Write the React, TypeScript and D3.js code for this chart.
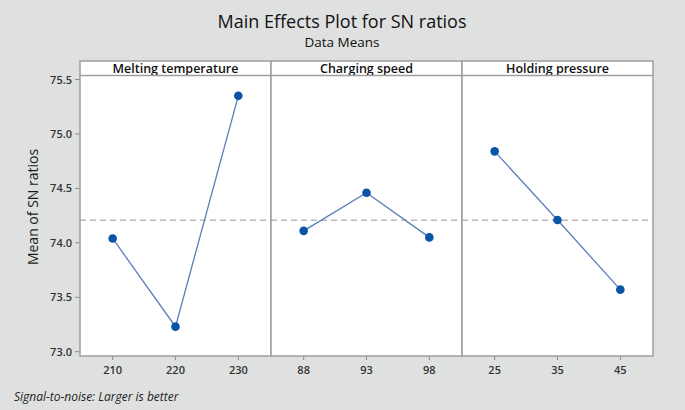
import React from "react";
import * as d3 from "d3";

const factors = ["Melting temperature", "Charging speed", "Holding pressure"];
const levels = [
  ["210", "220", "230"],
  ["88", "93", "98"],
  ["25", "35", "45"],
];
const snMeans = [
  [74.04, 73.23, 75.35],
  [74.11, 74.46, 74.05],
  [74.84, 74.21, 73.57],
];
const yTicks = [73.0, 73.5, 74.0, 74.5, 75.0, 75.5];
const grandMean = 74.207;

const W = 685;
const H = 410;
const left = 80;
const right = 653;
const stripTop = 61;
const stripBottom = 75.5;
const plotBottom = 356;
const font = "'Open Sans', 'Noto Sans', sans-serif";

export default function App() {
  const y = d3.scaleLinear().domain([73.0, 75.5]).range([351.7, 79.5]);
  const panelW = (right - left) / factors.length;
  const line = d3.line<[number, number]>().x((d) => d[0]).y((d) => d[1]);

  return (
    <svg
      width={W}
      height={H}
      style={{ position: "absolute", left: 0, top: 0, background: "#dfe1e0" }}
      fontFamily={font}
    >
      <rect x={0} y={0} width={W} height={H} fill="#dfe1e0" />
      <text x={342} y={28} textAnchor="middle" fontSize={18} fontWeight={500} fill="#111">
        Main Effects Plot for SN ratios
      </text>
      <text x={342} y={47} textAnchor="middle" fontSize={13.5} fontWeight={500} fill="#111">
        Data Means
      </text>
      <text
        transform={`translate(38,207) rotate(-90)`}
        textAnchor="middle"
        fontSize={14}
        fontWeight={500}
        fill="#1a1a1a"
      >
        Mean of SN ratios
      </text>
      {yTicks.map((t) => (
        <g key={t}>
          <line x1={left - 5} x2={left} y1={y(t)} y2={y(t)} stroke="#888" />
          <text x={left - 8} y={y(t) + 4} textAnchor="end" fontSize={11} fontWeight={600} fill="#333">
            {t.toFixed(1)}
          </text>
        </g>
      ))}
      {factors.map((f, i) => {
        const x0 = left + i * panelW;
        const x = d3
          .scalePoint<string>()
          .domain(levels[i])
          .range([x0, x0 + panelW])
          .padding(0.52);
        const pts: [number, number][] = levels[i].map((l, j) => [x(l)!, y(snMeans[i][j])]);
        return (
          <g key={f}>
            <rect x={x0} y={stripBottom} width={panelW} height={plotBottom - stripBottom} fill="#fff" />
            <rect x={x0} y={stripTop} width={panelW} height={stripBottom - stripTop} fill="#fff" />
            <text x={x0 + panelW / 2} y={stripTop + 11.5} textAnchor="middle" fontSize={12.5} fontWeight={600} fill="#111">
              {f}
            </text>
            <line
              x1={x0}
              x2={x0 + panelW}
              y1={y(grandMean)}
              y2={y(grandMean)}
              stroke="#b9b9b9"
              strokeWidth={1.4}
              strokeDasharray="6,4"
            />
            <path d={line(pts) || ""} fill="none" stroke="#5a7db8" strokeWidth={1.3} />
            {pts.map((p, j) => (
              <circle key={j} cx={p[0]} cy={p[1]} r={4.3} fill="#0a55a8" />
            ))}
            {levels[i].map((l) => (
              <g key={l}>
                <line x1={x(l)} x2={x(l)} y1={plotBottom} y2={plotBottom + 4} stroke="#888" />
                <text x={x(l)} y={plotBottom + 18} textAnchor="middle" fontSize={11} fontWeight={600} fill="#333">
                  {l}
                </text>
              </g>
            ))}
            <rect
              x={x0}
              y={stripTop}
              width={panelW}
              height={plotBottom - stripTop}
              fill="none"
              stroke="#9e9e9e"
              strokeWidth={1.5}
            />
            <line x1={x0} x2={x0 + panelW} y1={stripBottom} y2={stripBottom} stroke="#9e9e9e" strokeWidth={1.5} />
          </g>
        );
      })}
      <text x={14} y={401} fontSize={12} fontStyle="italic" fill="#222">
        Signal-to-noise: Larger is better
      </text>
    </svg>
  );
}
